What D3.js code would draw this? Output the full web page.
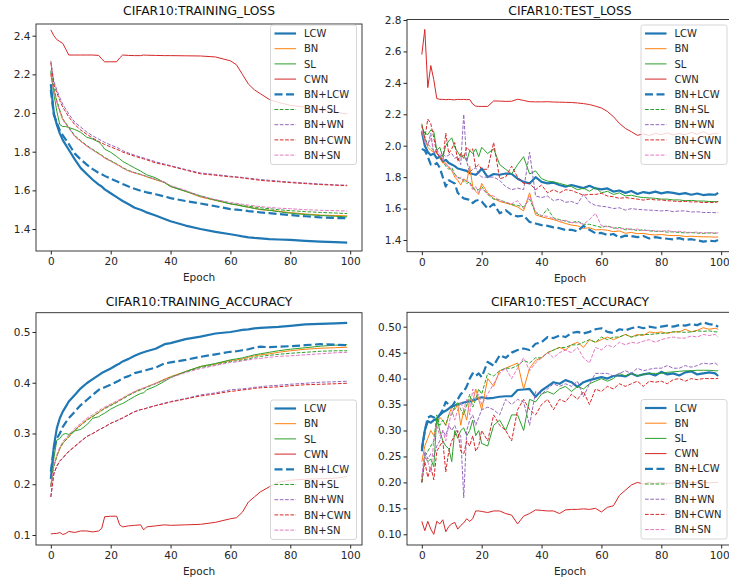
<!DOCTYPE html>
<html>
<head>
<meta charset="utf-8">
<script src="https://cdn.jsdelivr.net/npm/d3@7"></script>
<style>
  body { margin: 0; background: #fff; }
  svg { font-family: "DejaVu Sans", sans-serif; }
</style>
</head>
<body>
<div id="chart"></div>
<script>
// ---- data ----
const seriesNames = ["LCW", "BN", "SL", "CWN", "BN+LCW", "BN+SL", "BN+WN", "BN+CWN", "BN+SN"];
const seriesColors = ["#1f77b4", "#ff7f0e", "#2ca02c", "#d62728", "#1f77b4", "#2ca02c", "#9467bd", "#d62728", "#e377c2"];

const trainEpochs = [0,1,2,3,4,5,6, 8,10,12,14,16, 17,18,20,22,23,24, 26,28,30,31,32, 35,38,40,45,50, 55,60,62,64,66, 68,70,73,76,80, 85,90,95,99];
const testEpochs = [0,1,2,3,4,5,6,7,8,9,10,11,12,13,14,15,16,17,18,19,
  20,22,24,26,28,30,32,34,36,38, 40,42,44,46,48,50,52,54,56,58,
  60,62,64,66,68,70,72,74,76,78, 80,82,84,86,88,90,92,94,96,98, 99];

// training loss
const trainLossLCW = [2.15,2.0,1.94,1.895,1.86,1.835,1.81, 1.76,1.715,1.685,1.655,1.63, 1.62,1.605,1.585,1.565,1.555,1.545, 1.528,1.51,1.50,1.493,1.486, 1.47,1.452,1.44,1.418,1.40, 1.385,1.373,1.368,1.362,1.357, 1.354,1.352,1.348,1.346,1.344, 1.339,1.335,1.332,1.33];
const trainLossBN = [2.20,2.12,2.06,2.01,1.967,1.945,1.924, 1.88,1.855,1.83,1.81,1.79, 1.78,1.768,1.752,1.735,1.726,1.716, 1.70,1.69,1.681,1.676,1.67, 1.655,1.64,1.62,1.595,1.566, 1.548,1.53,1.525,1.52,1.513, 1.508,1.50,1.497,1.492,1.485, 1.478,1.472,1.47,1.468];
const trainLossSL = [2.22,2.10,2.01,1.94,1.93,1.93,1.925, 1.915,1.90,1.875,1.865,1.85, 1.835,1.813,1.797,1.775,1.763,1.75, 1.733,1.716,1.70,1.69,1.681, 1.665,1.64,1.62,1.595,1.572, 1.55,1.53,1.525,1.518,1.513, 1.506,1.502,1.497,1.49,1.482, 1.475,1.47,1.466,1.463];
const trainLossCWN = [2.43,2.40,2.38,2.37,2.36,2.33,2.30, 2.30,2.30,2.30,2.30,2.298, 2.28,2.265,2.265,2.265,2.285,2.30, 2.298,2.297,2.297,2.30,2.299, 2.298,2.297,2.297,2.296,2.295, 2.29,2.27,2.25,2.20,2.15, 2.12,2.10,2.07,2.055,2.04, 2.03,2.015,2.005,1.995];
const trainLossBNLCW = [2.12,1.99,1.95,1.91,1.885,1.863,1.84, 1.79,1.76,1.733,1.71,1.69, 1.683,1.675,1.66,1.647,1.64,1.633, 1.62,1.608,1.598,1.594,1.59, 1.58,1.568,1.56,1.545,1.532, 1.518,1.503,1.50,1.497,1.493, 1.49,1.486,1.482,1.478,1.472, 1.466,1.46,1.457,1.456];
const trainLossBNSL = [2.21,2.13,2.065,2.015,1.97,1.948,1.926, 1.883,1.857,1.832,1.812,1.792, 1.782,1.77,1.754,1.737,1.728,1.718, 1.703,1.692,1.683,1.678,1.672, 1.657,1.642,1.622,1.597,1.568, 1.55,1.532,1.528,1.522,1.518, 1.514,1.51,1.505,1.50,1.495, 1.49,1.486,1.483,1.48];
const trainLossBNWN = [2.27,2.165,2.12,2.08,2.045,2.02,1.995, 1.952,1.927,1.902,1.882,1.865, 1.857,1.848,1.835,1.822,1.815,1.805, 1.793,1.782,1.772,1.768,1.763, 1.748,1.736,1.728,1.708,1.69, 1.682,1.673,1.67,1.667,1.663, 1.66,1.656,1.652,1.648,1.643, 1.638,1.633,1.628,1.627];
const trainLossBNCWN = [2.26,2.15,2.105,2.065,2.03,2.005,1.98, 1.94,1.912,1.89,1.87,1.853, 1.845,1.837,1.825,1.812,1.806,1.798, 1.787,1.777,1.767,1.763,1.758, 1.742,1.732,1.725,1.705,1.686, 1.678,1.67,1.668,1.664,1.66, 1.656,1.652,1.648,1.645,1.64, 1.635,1.63,1.627,1.624];
const trainLossBNSN = [2.20,2.11,2.055,2.005,1.965,1.943,1.922, 1.878,1.853,1.828,1.808,1.788, 1.778,1.766,1.75,1.733,1.725,1.715, 1.70,1.69,1.682,1.677,1.671, 1.657,1.643,1.625,1.60,1.57, 1.553,1.537,1.533,1.528,1.524, 1.52,1.516,1.512,1.508,1.505, 1.50,1.497,1.495,1.493];

// test loss
const testLossLCW = [2.09,2.00,1.96,1.94,1.95,1.92,1.93,1.90,1.91,1.89,1.88,1.87,1.855,1.85,1.845,1.84,1.825,1.82,1.815,1.83,
  1.855,1.80,1.82,1.815,1.823,1.82,1.79,1.77,1.76,1.80,
  1.77,1.76,1.765,1.75,1.74,1.75,1.74,1.73,1.745,1.728,
  1.722,1.728,1.708,1.715,1.70,1.712,1.693,1.705,1.698,1.708,
  1.697,1.705,1.70,1.692,1.698,1.688,1.696,1.686,1.69,1.688, 1.70];
const testLossBN = [2.09,2.04,1.99,1.97,1.96,1.95,1.93,1.89,1.89,1.86,1.845,1.80,1.78,1.75,1.79,1.77,1.87,1.74,1.71,1.69,
  1.76,1.70,1.665,1.645,1.635,1.625,1.61,1.585,1.70,1.56,
  1.548,1.538,1.53,1.517,1.505,1.495,1.49,1.474,1.478,1.464,
  1.466,1.462,1.453,1.458,1.443,1.448,1.44,1.442,1.435,1.432,
  1.435,1.43,1.428,1.428,1.422,1.424,1.422,1.42,1.42,1.418, 1.42];
const testLossSL = [2.12,2.08,2.07,2.10,2.09,1.97,1.99,1.93,2.00,2.03,2.05,1.99,1.96,1.93,1.94,1.90,1.97,1.95,1.98,1.93,
  1.99,1.95,1.98,1.88,1.85,1.82,1.88,1.93,1.82,1.84,
  1.79,1.775,1.77,1.76,1.75,1.74,1.72,1.73,1.71,1.735,
  1.70,1.71,1.69,1.70,1.68,1.685,1.675,1.67,1.668,1.665,
  1.66,1.66,1.655,1.655,1.65,1.652,1.648,1.648,1.645,1.644, 1.645];
const testLossCWN = [2.58,2.74,2.37,2.51,2.42,2.30,2.295,2.295,2.293,2.295,2.293,2.292,2.295,2.294,2.295,2.293,2.294,2.265,2.252,2.25,
  2.25,2.25,2.285,2.284,2.282,2.283,2.296,2.288,2.28,2.279,
  2.279,2.28,2.278,2.277,2.276,2.275,2.272,2.268,2.262,2.252,
  2.24,2.218,2.185,2.142,2.11,2.089,2.066,2.075,2.065,2.078,
  2.07,2.082,2.068,2.078,2.07,2.085,2.072,2.09,2.07,2.08, 2.075];
const testLossBNLCW = [1.98,1.97,1.93,1.88,1.875,1.89,1.86,1.80,1.74,1.78,1.77,1.76,1.70,1.68,1.665,1.66,1.655,1.635,1.65,1.655,
  1.645,1.60,1.63,1.57,1.59,1.56,1.55,1.555,1.515,1.505,
  1.495,1.49,1.48,1.475,1.464,1.465,1.455,1.49,1.465,1.443,
  1.445,1.432,1.438,1.415,1.428,1.425,1.418,1.425,1.41,1.418,
  1.412,1.408,1.404,1.412,1.40,1.405,1.398,1.39,1.395,1.392, 1.40];
const testLossBNSL = [2.14,2.05,2.01,1.99,1.97,1.96,1.92,1.90,1.87,1.85,1.86,1.82,1.80,1.79,1.78,1.76,1.77,1.73,1.72,1.72,
  1.74,1.69,1.66,1.655,1.64,1.625,1.62,1.61,1.66,1.575,
  1.55,1.60,1.54,1.53,1.52,1.51,1.52,1.50,1.50,1.49,
  1.48,1.49,1.475,1.48,1.465,1.47,1.46,1.465,1.458,1.455,
  1.455,1.45,1.452,1.448,1.445,1.447,1.444,1.442,1.445,1.443, 1.445];
const testLossBNWN = [2.08,2.05,2.00,2.08,1.95,1.98,1.92,1.95,1.93,1.94,1.95,1.92,1.93,1.88,2.20,1.90,1.83,1.85,1.86,1.82,
  1.80,1.80,1.80,1.78,1.74,1.72,1.73,1.72,1.96,1.68,
  1.67,1.68,1.65,1.66,1.64,1.645,1.63,1.69,1.64,1.62,
  1.615,1.61,1.60,1.605,1.59,1.60,1.595,1.592,1.59,1.588,
  1.585,1.588,1.58,1.585,1.585,1.578,1.58,1.575,1.575,1.574, 1.575];
const testLossBNCWN = [2.13,2.05,2.17,2.14,2.05,1.95,1.93,1.90,2.08,1.95,1.98,2.02,1.90,1.95,1.92,1.99,1.97,1.98,1.86,1.88,
  1.85,1.85,2.02,1.79,1.80,1.87,1.80,1.76,1.76,1.72,
  1.75,1.70,1.72,1.70,1.72,1.715,1.70,1.685,1.69,1.69,
  1.697,1.68,1.675,1.665,1.67,1.665,1.66,1.654,1.66,1.655,
  1.655,1.65,1.648,1.644,1.646,1.642,1.643,1.638,1.64,1.638, 1.645];
const testLossBNSN = [2.10,2.02,2.00,2.05,1.96,1.97,1.95,1.91,1.88,1.87,1.84,1.82,1.79,1.80,1.77,1.78,1.76,1.72,1.74,1.70,
  1.73,1.69,1.68,1.65,1.64,1.63,1.65,1.60,1.68,1.58,
  1.555,1.55,1.535,1.52,1.525,1.51,1.51,1.50,1.53,1.57,
  1.49,1.485,1.48,1.47,1.475,1.465,1.47,1.46,1.462,1.458,
  1.456,1.46,1.452,1.455,1.45,1.448,1.45,1.445,1.447,1.445, 1.445];

// training accuracy
const trainAccLCW = [0.21,0.274,0.31,0.33,0.343,0.353,0.363, 0.376,0.389,0.399,0.407,0.415, 0.419,0.422,0.428,0.435,0.438,0.442, 0.447,0.453,0.458,0.46,0.462, 0.467,0.476,0.478,0.486,0.491, 0.497,0.50,0.502,0.504,0.505, 0.507,0.508,0.509,0.51,0.512, 0.515,0.516,0.517,0.518];
const trainAccBN = [0.195,0.235,0.255,0.27,0.281,0.288,0.294, 0.307,0.317,0.327,0.334,0.342, 0.346,0.35,0.356,0.362,0.366,0.369, 0.376,0.382,0.387,0.389,0.392, 0.399,0.407,0.412,0.422,0.432, 0.437,0.444,0.445,0.447,0.45, 0.453,0.455,0.457,0.46,0.463, 0.466,0.468,0.469,0.47];
const trainAccSL = [0.195,0.25,0.287,0.29,0.298,0.30,0.298, 0.305,0.308,0.317,0.33,0.333, 0.337,0.34,0.348,0.354,0.357,0.359, 0.366,0.373,0.379,0.38,0.386, 0.393,0.403,0.41,0.422,0.432, 0.438,0.445,0.447,0.449,0.452, 0.455,0.457,0.46,0.463,0.466, 0.469,0.472,0.474,0.475];
const trainAccCWN = [0.102,0.103,0.103,0.105,0.101,0.103,0.107, 0.105,0.108,0.108,0.106,0.108, 0.113,0.136,0.137,0.137,0.12,0.116, 0.118,0.119,0.12,0.11,0.116, 0.118,0.12,0.119,0.12,0.121, 0.125,0.132,0.134,0.145,0.165, 0.175,0.185,0.195,0.204,0.208, 0.21,0.211,0.212,0.215];
const trainAccBNLCW = [0.225,0.27,0.29,0.30,0.313,0.322,0.33, 0.343,0.356,0.366,0.376,0.386, 0.389,0.391,0.396,0.402,0.405,0.409, 0.413,0.419,0.422,0.423,0.425, 0.43,0.438,0.44,0.445,0.451, 0.456,0.461,0.462,0.464,0.466, 0.469,0.471,0.47,0.471,0.472, 0.474,0.476,0.475,0.474];
const trainAccBNSL = [0.195,0.235,0.255,0.27,0.28,0.287,0.293, 0.306,0.316,0.326,0.333,0.341, 0.345,0.349,0.355,0.361,0.365,0.368, 0.375,0.381,0.386,0.388,0.391, 0.398,0.406,0.411,0.421,0.43, 0.435,0.442,0.443,0.445,0.447, 0.45,0.452,0.454,0.456,0.458, 0.46,0.462,0.463,0.463];
const trainAccBNWN = [0.175,0.221,0.235,0.245,0.251,0.258,0.264, 0.274,0.284,0.294,0.30,0.307, 0.31,0.313,0.32,0.325,0.328,0.33, 0.337,0.343,0.347,0.348,0.35, 0.355,0.36,0.363,0.369,0.376, 0.38,0.386,0.387,0.388,0.389, 0.391,0.392,0.394,0.395,0.397, 0.399,0.401,0.402,0.403];
const trainAccBNCWN = [0.175,0.22,0.236,0.246,0.252,0.259,0.265, 0.275,0.285,0.294,0.30,0.307, 0.31,0.313,0.32,0.325,0.328,0.331, 0.337,0.343,0.347,0.348,0.35, 0.355,0.359,0.362,0.368,0.374, 0.378,0.383,0.384,0.386,0.387, 0.389,0.39,0.391,0.392,0.394, 0.396,0.397,0.398,0.399];
const trainAccBNSN = [0.195,0.238,0.258,0.273,0.284,0.291,0.297, 0.31,0.32,0.33,0.337,0.345, 0.349,0.352,0.358,0.364,0.367,0.37, 0.377,0.383,0.388,0.39,0.392, 0.398,0.405,0.41,0.42,0.428, 0.434,0.44,0.441,0.443,0.445, 0.447,0.448,0.45,0.452,0.453, 0.455,0.457,0.459,0.46];

// test accuracy
const testAccLCW = [0.265,0.30,0.318,0.315,0.32,0.322,0.33,0.335,0.338,0.342,0.347,0.348,0.35,0.352,0.354,0.355,0.356,0.358,0.36,0.362,
  0.364,0.362,0.363,0.365,0.366,0.366,0.378,0.379,0.38,0.365,
  0.377,0.385,0.393,0.39,0.397,0.393,0.384,0.393,0.397,0.40,
  0.403,0.40,0.405,0.406,0.404,0.41,0.405,0.408,0.41,0.406,
  0.413,0.408,0.41,0.406,0.412,0.414,0.408,0.41,0.412,0.41, 0.405];
const testAccBN = [0.24,0.27,0.285,0.30,0.29,0.31,0.325,0.32,0.31,0.33,0.345,0.34,0.35,0.31,0.34,0.32,0.36,0.355,0.38,0.36,
  0.34,0.40,0.385,0.415,0.42,0.425,0.43,0.38,0.42,0.435,
  0.44,0.45,0.455,0.46,0.455,0.465,0.47,0.46,0.475,0.47,
  0.475,0.48,0.475,0.48,0.485,0.48,0.485,0.483,0.49,0.488,
  0.49,0.487,0.49,0.49,0.495,0.49,0.493,0.498,0.495,0.497, 0.495];
const testAccSL = [0.20,0.25,0.24,0.245,0.23,0.325,0.30,0.28,0.27,0.265,0.24,0.30,0.285,0.30,0.305,0.29,0.30,0.32,0.29,0.30,
  0.275,0.27,0.31,0.32,0.30,0.33,0.33,0.30,0.36,0.355,
  0.37,0.375,0.37,0.38,0.385,0.375,0.385,0.38,0.39,0.395,
  0.40,0.395,0.40,0.41,0.405,0.41,0.405,0.408,0.41,0.41,
  0.41,0.412,0.413,0.414,0.415,0.415,0.416,0.416,0.416,0.415, 0.415];
const testAccCWN = [0.125,0.107,0.125,0.11,0.10,0.125,0.12,0.128,0.105,0.115,0.12,0.123,0.11,0.117,0.122,0.13,0.125,0.13,0.145,0.145,
  0.144,0.142,0.145,0.145,0.14,0.137,0.12,0.135,0.14,0.147,
  0.146,0.145,0.145,0.14,0.147,0.148,0.148,0.149,0.148,0.15,
  0.143,0.152,0.155,0.175,0.185,0.195,0.20,0.197,0.20,0.198,
  0.20,0.198,0.199,0.20,0.198,0.20,0.199,0.20,0.199,0.20, 0.20];
const testAccBNLCW = [0.26,0.30,0.325,0.328,0.325,0.325,0.33,0.34,0.355,0.35,0.345,0.355,0.36,0.37,0.375,0.385,0.40,0.41,0.405,0.41,
  0.403,0.432,0.425,0.445,0.44,0.45,0.455,0.458,0.455,0.467,
  0.47,0.48,0.478,0.483,0.48,0.488,0.49,0.487,0.49,0.495,
  0.497,0.49,0.488,0.495,0.493,0.497,0.50,0.497,0.50,0.498,
  0.50,0.502,0.50,0.503,0.502,0.505,0.503,0.508,0.505,0.503, 0.50];
const testAccBNSL = [0.20,0.25,0.26,0.27,0.28,0.33,0.31,0.32,0.31,0.33,0.33,0.345,0.355,0.34,0.33,0.35,0.37,0.345,0.36,0.38,
  0.37,0.41,0.405,0.415,0.42,0.42,0.425,0.435,0.43,0.44,
  0.44,0.45,0.455,0.46,0.46,0.465,0.465,0.47,0.475,0.47,
  0.48,0.475,0.48,0.48,0.485,0.48,0.483,0.485,0.485,0.486,
  0.487,0.488,0.49,0.49,0.489,0.49,0.492,0.491,0.492,0.49, 0.49];
const testAccBNWN = [0.21,0.26,0.245,0.255,0.25,0.27,0.28,0.30,0.29,0.31,0.30,0.31,0.295,0.29,0.17,0.30,0.32,0.33,0.31,0.325,
  0.34,0.345,0.34,0.33,0.36,0.35,0.36,0.355,0.31,0.375,
  0.37,0.38,0.39,0.385,0.39,0.385,0.395,0.365,0.39,0.41,
  0.41,0.41,0.405,0.41,0.415,0.41,0.42,0.415,0.418,0.42,
  0.42,0.425,0.42,0.42,0.425,0.422,0.425,0.43,0.428,0.43, 0.425];
const testAccBNCWN = [0.20,0.24,0.21,0.23,0.205,0.26,0.27,0.28,0.22,0.26,0.28,0.29,0.30,0.26,0.255,0.28,0.27,0.29,0.26,0.27,
  0.30,0.28,0.33,0.31,0.30,0.28,0.34,0.36,0.34,0.33,
  0.35,0.36,0.34,0.36,0.355,0.37,0.36,0.375,0.35,0.38,
  0.375,0.385,0.38,0.39,0.385,0.39,0.395,0.385,0.395,0.393,
  0.395,0.39,0.398,0.40,0.395,0.40,0.398,0.40,0.40,0.40, 0.40];
const testAccBNSN = [0.21,0.25,0.24,0.22,0.28,0.31,0.29,0.30,0.28,0.31,0.34,0.32,0.34,0.355,0.34,0.36,0.33,0.38,0.36,0.37,
  0.35,0.37,0.39,0.41,0.42,0.40,0.42,0.44,0.415,0.43,
  0.44,0.45,0.44,0.45,0.455,0.45,0.46,0.44,0.43,0.46,
  0.455,0.465,0.46,0.47,0.465,0.47,0.468,0.472,0.475,0.47,
  0.475,0.478,0.48,0.478,0.478,0.482,0.48,0.485,0.483,0.485, 0.48];

const xTicks = [0, 20, 40, 60, 80, 100];

// ---- layout ----
const W = 729, H = 582;
const svg = d3.select("#chart").append("svg")
    .attr("width", W)
    .attr("height", H);

const panels = [
    {title: "CIFAR10:TRAINING_LOSS", left: 36, right: 362, top: 24, bottom: 251, titleY: 14.5,
     yDomain: [1.2864, 2.4605], yTicks: [1.4, 1.6, 1.8, 2.0, 2.2, 2.4], fmt: ".1f",
     epochs: trainEpochs,
     values: [trainLossLCW, trainLossBN, trainLossSL, trainLossCWN, trainLossBNLCW, trainLossBNSL, trainLossBNWN, trainLossBNCWN, trainLossBNSN],
     legend: [270.5, 25]},
    {title: "CIFAR10:TEST_LOSS", left: 407, right: 733, top: 19.5, bottom: 251.7, titleY: 14.5,
     yDomain: [1.3255, 2.8032], yTicks: [1.4, 1.6, 1.8, 2.0, 2.2, 2.4, 2.6, 2.8], fmt: ".1f",
     epochs: testEpochs,
     values: [testLossLCW, testLossBN, testLossSL, testLossCWN, testLossBNLCW, testLossBNSL, testLossBNWN, testLossBNCWN, testLossBNSN],
     legend: [641, 25]},
    {title: "CIFAR10:TRAINING_ACCURACY", left: 36, right: 362, top: 312.7, bottom: 545, titleY: 305.5,
     yDomain: [0.0803, 0.538], yTicks: [0.1, 0.2, 0.3, 0.4, 0.5], fmt: ".1f",
     epochs: trainEpochs,
     values: [trainAccLCW, trainAccBN, trainAccSL, trainAccCWN, trainAccBNLCW, trainAccBNSL, trainAccBNWN, trainAccBNCWN, trainAccBNSN],
     legend: [270.5, 400]},
    {title: "CIFAR10:TEST_ACCURACY", left: 407, right: 733, top: 312.3, bottom: 545, titleY: 305.5,
     yDomain: [0.0794, 0.5277], yTicks: [0.10, 0.15, 0.20, 0.25, 0.30, 0.35, 0.40, 0.45, 0.50], fmt: ".2f",
     epochs: testEpochs,
     values: [testAccLCW, testAccBN, testAccSL, testAccCWN, testAccBNLCW, testAccBNSL, testAccBNWN, testAccBNCWN, testAccBNSN],
     legend: [641, 399.5]}
];

function lineStyle(i) {
    const thick = (i === 0 || i === 4);
    const dashed = i >= 4;
    return {
        width: thick ? 2.2 : 1,
        dash: dashed ? (thick ? "8,3.5" : "3.7,1.6") : null
    };
}

panels.forEach((p, pi) => {
    const x = d3.scaleLinear().domain([-4.95, 103.95]).range([p.left, p.right]);
    const y = d3.scaleLinear().domain(p.yDomain).range([p.bottom, p.top]);
    const g = svg.append("g");

    // clip
    g.append("clipPath").attr("id", "clip" + pi)
        .append("rect")
        .attr("x", p.left).attr("y", p.top)
        .attr("width", p.right - p.left).attr("height", p.bottom - p.top);

    // lines
    const line = d3.line()
        .x(d => x(d[0]))
        .y(d => y(d[1]));
    const plot = g.append("g").attr("clip-path", "url(#clip" + pi + ")");
    p.values.forEach((vals, i) => {
        const st = lineStyle(i);
        plot.append("path")
            .datum(p.epochs.map((e, k) => [e, vals[k]]))
            .attr("d", line)
            .attr("fill", "none")
            .attr("stroke", seriesColors[i])
            .attr("stroke-width", st.width)
            .attr("stroke-dasharray", st.dash)
            .attr("stroke-linejoin", "round");
    });

    // frame
    g.append("rect")
        .attr("x", p.left).attr("y", p.top)
        .attr("width", p.right - p.left).attr("height", p.bottom - p.top)
        .attr("fill", "none")
        .attr("stroke", "#262626")
        .attr("stroke-width", 0.9);

    // x axis
    const xAxis = g.append("g")
        .attr("transform", "translate(0," + p.bottom + ")")
        .call(d3.axisBottom(x).tickValues(xTicks).tickSize(3.5).tickPadding(3.5).tickFormat(d3.format("d")));
    xAxis.select(".domain").remove();
    xAxis.selectAll("line").attr("stroke", "#262626");
    xAxis.selectAll("text")
        .attr("fill", "#262626")
        .style("font-size", "10.5px")
        .style("font-family", "'DejaVu Sans', sans-serif");
    // keep the last label inside the window on the right-hand panels
    if (p.right > W) {
        xAxis.selectAll("text").filter(d => d === 100).attr("dx", -2);
    }

    // y axis
    const yAxis = g.append("g")
        .attr("transform", "translate(" + p.left + ",0)")
        .call(d3.axisLeft(y).tickValues(p.yTicks).tickSize(3.5).tickPadding(2).tickFormat(d3.format(p.fmt)));
    yAxis.select(".domain").remove();
    yAxis.selectAll("line").attr("stroke", "#262626");
    yAxis.selectAll("text")
        .attr("fill", "#262626")
        .style("font-size", "10.5px")
        .style("font-family", "'DejaVu Sans', sans-serif");

    // x label
    g.append("text")
        .attr("x", (p.left + p.right) / 2)
        .attr("y", p.bottom + 30)
        .attr("text-anchor", "middle")
        .attr("fill", "#262626")
        .style("font-size", "10.5px")
        .text("Epoch");

    // title
    g.append("text")
        .attr("x", (p.left + p.right) / 2)
        .attr("y", p.titleY)
        .attr("text-anchor", "middle")
        .attr("fill", "#111")
        .style("font-size", "12.3px")
        .text(p.title);

    // legend
    const [lx, ly] = p.legend;
    const lg = g.append("g").attr("transform", "translate(" + lx + "," + ly + ")");
    lg.append("rect")
        .attr("x", 0).attr("y", 0)
        .attr("width", 86).attr("height", 139.5)
        .attr("rx", 2.5)
        .attr("fill", "#fff").attr("fill-opacity", 0.8)
        .attr("stroke", "#cccccc").attr("stroke-width", 0.8);
    seriesNames.forEach((name, i) => {
        const cy = 8.5 + i * 15.2;
        const st = lineStyle(i);
        lg.append("line")
            .attr("x1", 4).attr("x2", 25.5)
            .attr("y1", cy).attr("y2", cy)
            .attr("stroke", seriesColors[i])
            .attr("stroke-width", st.width)
            .attr("stroke-dasharray", st.dash);
        lg.append("text")
            .attr("x", 33.5)
            .attr("y", cy + 3.6)
            .attr("fill", "#262626")
            .style("font-size", "10px")
            .text(name);
    });
});
</script>
</body>
</html>
